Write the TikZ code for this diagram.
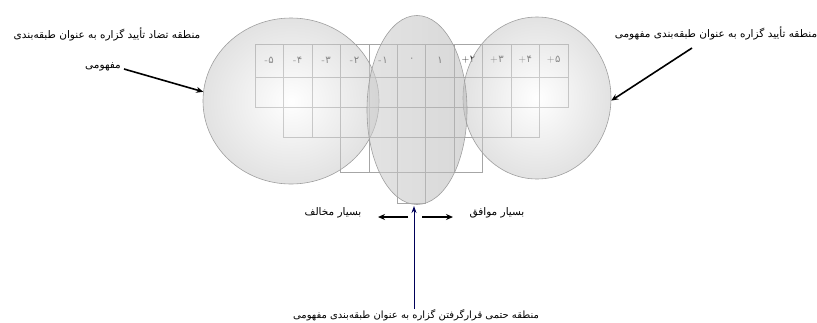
\documentclass[tikz,border=0pt]{standalone}
\usepackage{fontspec}
\newfontfamily\fa[Script=Arabic]{DejaVu Sans}
\TeXXeTstate=1
\usetikzlibrary{shapes.geometric,arrows.meta}
\begin{document}
\begin{tikzpicture}[x=1pt,y=-1pt,
  grid/.style={draw=gray!70,line width=0.6pt},
  cell/.style={font=\fontsize{10}{11}\selectfont,text=black!80,inner sep=0pt},
  lbl/.style={font=\fa\fontsize{10.5}{12}\selectfont,inner sep=0pt},
  blob/.style={ellipse,draw=gray!75,line width=0.6pt,inner sep=0pt,fill opacity=0.5,
    shading=radial,inner color=white,outer color=gray!45},
  lens/.style={ellipse,draw=gray!75,line width=0.6pt,inner sep=0pt,fill opacity=0.55,
    left color=gray!40,middle color=white,right color=gray!55},
  arr/.style={line width=1.6pt,-{Stealth[length=7pt,width=6pt]}},
  varr/.style={line width=1pt,draw=blue!35!black,-{Stealth[length=7pt,width=5pt]}}]
\useasboundingbox (0,0) rectangle (817,322);
\def\cw{28.45}
% table
\draw[grid] (255,44) rectangle (568,107);
\draw[grid] (255,77) -- (568,77);
\foreach \k in {1,...,10} \draw[grid] (255+\k*\cw,44) -- (255+\k*\cw,107);
\draw[grid] (255+1*\cw,107) rectangle (255+10*\cw,137);
\foreach \k in {2,...,9} \draw[grid] (255+\k*\cw,107) -- (255+\k*\cw,137);
\draw[grid] (255+3*\cw,137) rectangle (255+8*\cw,172);
\foreach \k in {4,...,7} \draw[grid] (255+\k*\cw,137) -- (255+\k*\cw,172);
\draw[grid] (255+5*\cw,172) rectangle (255+6*\cw,203);
\foreach \s/\d [count=\i from 0] in {-/۵,-/۴,-/۳,-/۲,-/۱,/۰,/۱,+/۲,+/۳,+/۴,+/۵}
  \node[cell] (c\i) at (255+\i*\cw+0.5*\cw,60) {\hbox{\s\kern0.5pt\hbox{\fa \d}}};
% regions
\node[blob,minimum width=176pt,minimum height=166pt] (lc) at (291,101) {};
\node[blob,minimum width=148pt,minimum height=162pt] (rc) at (537,98) {};
\node[lens,minimum width=100pt,minimum height=189pt] (mc) at (417,110) {};
% labels
\node[lbl] (tl1) at (107,34) {\beginR منطقه تضاد تأیید گزاره به عنوان طبقه‌بندی\endR};
\node[lbl] (tl2) at (103,67) {\beginR مفهومی\endR};
\node[lbl] (tr) at (716,33) {\beginR منطقه تأیید گزاره به عنوان طبقه‌بندی مفهومی\endR};
\node[lbl] (bl) at (333,213) {\beginR بسیار مخالف\endR};
\node[lbl] (br) at (497,213) {\beginR بسیار موافق\endR};
\node[lbl,font=\fa\fontsize{10}{12}\selectfont] (bt) at (416,315) {\beginR منطقه حتمی قرارگرفتن گزاره به عنوان طبقه‌بندی مفهومی\endR};
% connectors
\coordinate (ra) at (692,48);
\coordinate (al) at (408,217);
\coordinate (alt) at (378,217);
\coordinate (ar) at (422,217);
\coordinate (art) at (453,217);
\coordinate (va) at (414,206);
\draw[arr] ([xshift=3pt,yshift=-2pt]tl2.east) -- (lc.174);
\draw[arr] (ra) -- (rc.358);
\draw[arr] (al) -- (alt);
\draw[arr] (ar) -- (art);
\draw[varr] (bt.north -| va) -- (va);
\end{tikzpicture}
\end{document}
